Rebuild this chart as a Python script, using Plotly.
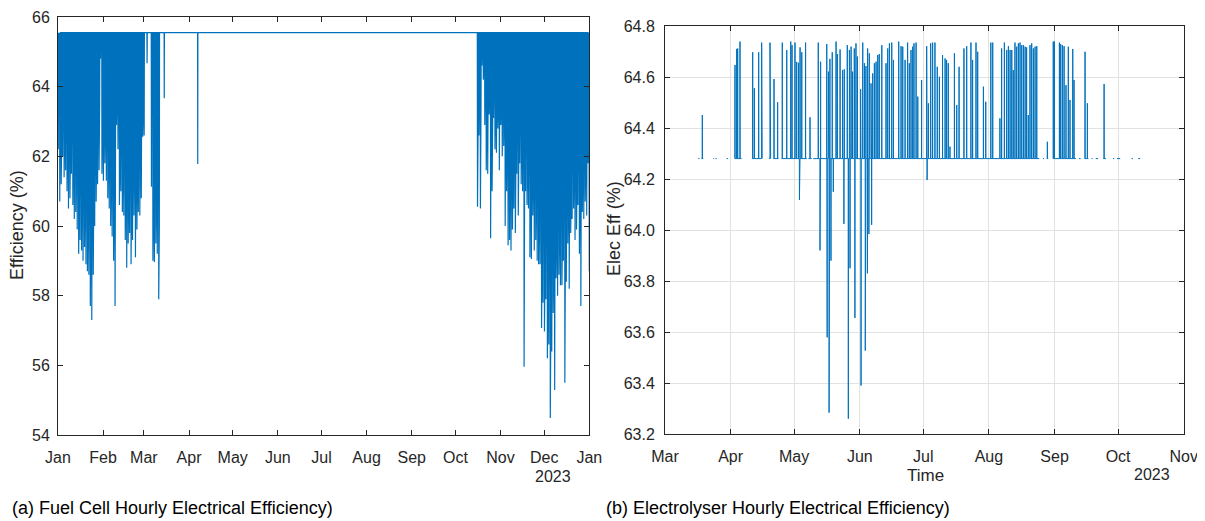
import pandas as pd
import plotly.graph_objects as go

# ---------------- Fuel cell data (a) ----------------
fc_base = 65.55
fc_year_start = "2023-01-01"
# winter window 1: one deep and one shallow dip per day, starting Jan 1 (day 0)
fc_w1_start = 0
fc_w1_deep = [62.2, 60.7, 61.2, 62.0, 61.4, 61.6, 61.0, 60.5, 60.8, 61.5,
              60.6, 60.2, 60.4, 59.9, 59.2, 59.6, 59.3, 59.0, 59.4, 58.9,
              58.7, 58.6, 57.7, 57.3, 58.6, 60.0, 60.7, 61.2, 61.6, 64.8,
              61.5, 61.3, 61.8, 61.3, 60.8, 60.5, 60.0, 59.7, 59.0, 57.7,
              62.9, 62.2, 60.6, 61.0, 60.4, 60.3, 59.6, 58.8, 59.5, 59.8,
              58.9, 59.6, 60.3, 59.1, 59.9, 60.4, 60.3, 60.8, 62.56, 62.6,
              None, 64.67, None, None, 61.13, 59.0, 58.97, 59.5, 59.2, 57.9]
fc_w1_shallow = [64.0, 62.5, 63.0, 63.5, 62.8, 63.2, 62.5, 62.0, 62.4, 62.8,
                 62.2, 61.8, 62.0, 61.6, 61.2, 61.0, 61.4, 60.8, 61.0, 60.6,
                 60.5, 60.8, 60.2, 60.0, 61.0, 62.0, 62.5, 63.0, 63.5, None,
                 63.0, 62.8, 63.2, 62.6, 62.4, 62.0, 61.8, 61.5, 61.0, 60.5,
                 64.0, 63.5, 62.5, 62.8, 62.0, 62.2, 61.5, 61.0, 61.2, 61.5,
                 61.2, 61.8, 62.5, 61.5, 62.0, 62.5, 62.6, 63.0, 63.5, None,
                 None, None, None, None, None, 61.0, 60.5, 61.0, 60.8, 60.0]
# isolated dips in spring
fc_extra_days = [73, 96]
fc_extra_vals = [63.67, 61.78]
# winter window 2: from Oct 16 (day 288) to Dec 31
fc_w2_start = 288
fc_w2_deep = [60.55, 62.6, 60.5, 64.6, 64.2, 62.9, 61.6, 61.5, 63.2, 59.65,
              61.0, 63.1, 62.2, 62.1, 62.8, 61.6, 62.9, 62.0, 62.3, 60.0,
              61.0, 59.45, 59.6, 59.3, 59.9, 60.5, 59.8, 61.5, 60.3, 61.8,
              61.2, 61.0, 55.96, 61.0, 60.6, 60.5, 59.1, 59.05, 60.3, 59.3,
              59.6, 59.0, 58.9, 58.9, 57.07, 57.8, 56.97, 57.9, 56.2, 56.6,
              54.49, 56.4, 57.5, 55.29, 58.5, 58.0, 58.6, 58.3, 58.3, 59.0,
              55.5, 58.4, 59.5, 58.2, 59.8, 60.2, 60.5, 59.6, 59.9, 60.6,
              59.2, 57.7, 60.4, 60.2, 60.7, 60.3, 61.8]
fc_w2_shallow = [63.0, 64.0, 63.5, 65.0, 64.8, 64.0, 63.2, 63.0, 64.2, 62.5,
                 63.0, 64.0, 63.5, 63.4, 63.8, 63.0, 63.6, 63.2, 63.5, 62.5,
                 62.8, 62.0, 62.2, 61.8, 62.0, 62.4, 62.0, 62.8, 62.2, 63.0,
                 62.6, 62.4, 62.0, 62.3, 62.0, 61.8, 61.5, 61.5, 61.6, 61.2,
                 61.2, 60.8, 60.8, 60.4, 59.8, 59.5, 59.0, 58.8, 58.5, 58.0,
                 57.5, 57.0, 59.0, 58.5, 60.0, 59.8, 60.2, 60.4, 60.0, 60.6,
                 59.8, 60.0, 60.8, 60.4, 61.0, 61.4, 61.6, 61.2, 61.5, 61.8,
                 61.4, 61.0, 61.8, 61.6, 62.0, 61.9, 62.5]
fc_last_val = 58.7

# ---------------- Electrolyser data (b) ----------------
el_base = 64.28
el_start = "2023-03-01"
# running periods (days after Mar 1)
el_run_start = [15.7, 17.2, 22.8, 23.8, 29.1, 33.0, 41.0, 49.1, 51.2, 55.1, 67.7, 70.0,
                178.5, 180.3, 183.2, 195.5, 198.2, 201.5, 203.5, 207.0, 211.6, 213.5, 220.4, 223.5]
el_run_end = [16.3, 18.1, 23.2, 24.4, 29.8, 36.2, 45.9, 49.9, 53.6, 67.0, 69.3, 176.8,
              179.0, 181.0, 194.1, 196.3, 200.0, 202.0, 204.5, 208.3, 212.2, 215.0, 221.0, 224.4]
# spikes (days after Mar 1) and their values
el_spike_days = [17.63, 33.07, 33.86, 34.33, 35.43, 41.42, 42.2, 44.25, 45.66, 49.6,
                 51.5, 53.2, 55.4, 57.5, 59.4, 60.0, 61.4, 62.2, 63.1, 63.8,
                 64.6, 66.4, 68.5, 72.4, 73.5, 76.4, 77.2, 77.9, 79.0, 80.8,
                 81.4, 82.7, 83.9, 84.7, 86.1, 87.1, 87.9, 88.6, 89.4, 90.2,
                 90.9, 92.4, 93.4, 94.2, 94.9, 95.7, 96.5, 97.3, 98.1, 98.9,
                 99.7, 100.5, 101.2, 102.4, 104.4, 105.2, 106.0, 107.1, 107.9, 110.4,
                 111.5, 112.3, 113.4, 114.6, 115.4, 116.2, 117.0, 117.6, 118.6, 119.4,
                 121.2, 123.6, 124.4, 125.5, 126.4, 127.5, 128.6, 129.6, 131.1, 132.3,
                 133.0, 133.8, 134.6, 136.7, 137.8, 138.9, 141.2, 142.5, 144.5, 145.3,
                 146.9, 147.7, 150.4, 151.5, 153.9, 154.8, 158.2, 159.0, 160.3, 161.4,
                 162.2, 163.0, 163.8, 164.5, 165.3, 166.1, 166.9, 167.7, 168.5, 169.3,
                 170.1, 170.8, 171.6, 172.4, 173.2, 174.0, 174.8, 175.6, 180.6, 183.4,
                 183.9, 186.3, 186.9, 187.7, 188.5, 189.4, 190.5, 191.3, 192.6, 193.2,
                 198.4, 199.5, 207.4,
                 63.5, 73.2, 76.6, 77.5, 78.4, 79.5, 84.5, 86.6, 87.4, 89.7,
                 92.6, 94.6, 95.6, 96.3, 97.6, 123.8]
el_spike_vals = [64.451, 64.647, 64.71, 64.712, 64.739, 64.697, 64.556, 64.697, 64.735, 64.735,
                 64.592, 64.501, 64.735, 64.706, 64.739, 64.725, 64.735, 64.659, 64.656, 64.716,
                 64.697, 64.735, 64.442, 64.735, 64.66, 64.729, 64.621, 64.671, 64.697, 64.739,
                 64.69, 64.708, 64.627, 64.63, 64.725, 64.706, 64.719, 64.621, 64.712, 64.732,
                 64.68, 64.552, 64.735, 64.654, 64.643, 64.712, 64.693, 64.575, 64.614, 64.654,
                 64.66, 64.686, 64.69, 64.725, 64.654, 64.712, 64.732, 64.735, 64.667, 64.739,
                 64.721, 64.719, 64.667, 64.735, 64.654, 64.706, 64.719, 64.732, 64.735, 64.523,
                 64.588, 64.721, 64.497, 64.732, 64.735, 64.735, 64.64, 64.601, 64.686, 64.673,
                 64.667, 64.654, 64.327, 64.693, 64.49, 64.64, 64.712, 64.721, 64.735, 64.667,
                 64.735, 64.699, 64.562, 64.503, 64.735, 64.735, 64.438, 64.712, 64.735, 64.706,
                 64.721, 64.706, 64.706, 64.627, 64.735, 64.719, 64.732, 64.735, 64.725, 64.725,
                 64.719, 64.716, 64.451, 64.725, 64.732, 64.712, 64.719, 64.721, 64.346, 64.739,
                 64.739, 64.735, 64.729, 64.725, 64.721, 64.568, 64.719, 64.51, 64.71, 64.588,
                 64.699, 64.497, 64.572,
                 64.118, 63.92, 63.579, 63.284, 63.88, 64.15, 64.024, 63.26, 63.85, 63.655,
                 63.39, 63.527, 63.83, 63.984, 64.02, 64.196]

# ---------------- build line tables ----------------
t0 = pd.Timestamp(fc_year_start)
fc_pts = [(0.0, fc_base)]


def add_window(start, deep, shallow):
    for i, (a, b) in enumerate(zip(deep, shallow)):
        d = start + i
        if a is not None:
            fc_pts.extend([(d + 0.05, fc_base), (d + 0.2, a), (d + 0.35, fc_base)])
        if b is not None:
            fc_pts.extend([(d + 0.5, fc_base), (d + 0.62, b), (d + 0.75, fc_base)])


add_window(fc_w1_start, fc_w1_deep, fc_w1_shallow)
for d, v in zip(fc_extra_days, fc_extra_vals):
    fc_pts.extend([(d - 0.1, fc_base), (d, v), (d + 0.1, fc_base)])
add_window(fc_w2_start, fc_w2_deep, fc_w2_shallow)
fc_pts.append((364.99, fc_last_val))
fc_pts.sort(key=lambda p: p[0])
fc_x = [t0 + pd.Timedelta(days=p[0]) for p in fc_pts]
fc_y = [p[1] for p in fc_pts]

t1 = pd.Timestamp(el_start)
el_pts = []
spikes = sorted(zip(el_spike_days, el_spike_vals))
for s, e in zip(el_run_start, el_run_end):
    el_pts.append((s, el_base))
    for d, v in spikes:
        if s <= d <= e:
            el_pts.extend([(d - 0.04, el_base), (d, v), (d + 0.04, el_base)])
    el_pts.append((e, el_base))
    el_pts.append((e + 0.01, None))
el_x = [t1 + pd.Timedelta(days=p[0]) for p in el_pts]
el_y = [p[1] for p in el_pts]

# ---------------- figure ----------------
BLUE = "#0072BD"
AX = "#262626"
FONT = "Liberation Sans, Arial, sans-serif"
W, H = 1205, 521
OFF = 8  # page body margin of the rendered html


def px(x):
    return (x - OFF) / W


def py(y):
    return 1 - (y - OFF) / H


fig = go.Figure()
fig.add_trace(go.Scatter(x=fc_x, y=fc_y, mode="lines", line=dict(color=BLUE, width=1.2),
                         xaxis="x", yaxis="y", showlegend=False, hoverinfo="skip"))
fig.add_trace(go.Scatter(x=el_x, y=el_y, mode="lines", line=dict(color=BLUE, width=1),
                         xaxis="x2", yaxis="y2", showlegend=False, hoverinfo="skip",
                         connectgaps=False))

left_ticks = pd.date_range("2023-01-01", "2024-01-01", freq="MS")
left_text = [t.strftime("%b") for t in left_ticks]
right_ticks = pd.date_range("2023-03-01", "2023-11-01", freq="MS")
right_text = [t.strftime("%b") for t in right_ticks]

common = dict(showline=True, linecolor=AX, linewidth=1, mirror="ticks", ticks="inside",
              ticklen=5, tickcolor=AX, tickfont=dict(family=FONT, size=16, color=AX),
              zeroline=False, automargin=False)

fig.update_layout(
    width=W, height=H, margin=dict(l=0, r=0, t=0, b=0, autoexpand=False),
    paper_bgcolor="white", plot_bgcolor="white",
    xaxis=dict(domain=[px(58), px(589.3)], anchor="y",
               range=[left_ticks[0], left_ticks[-1]], tickvals=list(left_ticks),
               ticktext=left_text, showgrid=False, ticklabelstandoff=8, **common),
    yaxis=dict(domain=[py(435), py(17)], anchor="x", range=[54, 66],
               tickvals=[54, 56, 58, 60, 62, 64, 66], showgrid=False,
               ticklabelstandoff=4, **common),
    xaxis2=dict(domain=[px(665), px(1183.7)], anchor="y2",
                range=[right_ticks[0], right_ticks[-1]], tickvals=list(right_ticks),
                ticktext=right_text, showgrid=True, gridcolor="#e2e2e2", gridwidth=1,
                ticklabelstandoff=8, **common),
    yaxis2=dict(domain=[py(434), py(26)], anchor="x2", range=[63.2, 64.8],
                tickvals=[63.2, 63.4, 63.6, 63.8, 64.0, 64.2, 64.4, 64.6, 64.8],
                tickformat=".1f", showgrid=True, gridcolor="#e2e2e2", gridwidth=1,
                ticklabelstandoff=6, **common),
)

ann = [
    dict(text="Efficiency (%)", x=17, y=225, textangle=-90, size=18),
    dict(text="Elec Eff (%)", x=614, y=229, textangle=-90, size=18),
    dict(text="Time", x=925, y=475, textangle=0, size=17),
    dict(text="2023", x=553, y=476, textangle=0, size=16),
    dict(text="2023", x=1152, y=474, textangle=0, size=16),
]
for a in ann:
    fig.add_annotation(text=a["text"], x=px(a["x"]), y=py(a["y"]), xref="paper", yref="paper",
                       xanchor="center", yanchor="middle", textangle=a["textangle"],
                       showarrow=False, font=dict(family=FONT, size=a["size"], color=AX))
for txt, x in [("(a) Fuel Cell Hourly Electrical Efficiency)", 10),
               ("(b) Electrolyser Hourly Electrical Efficiency)", 604)]:
    fig.add_annotation(text=txt, x=px(x), y=py(508), xref="paper", yref="paper",
                       xanchor="left", yanchor="middle", showarrow=False,
                       font=dict(family=FONT, size=18, color="black"))

fig.write_html("out.html")
